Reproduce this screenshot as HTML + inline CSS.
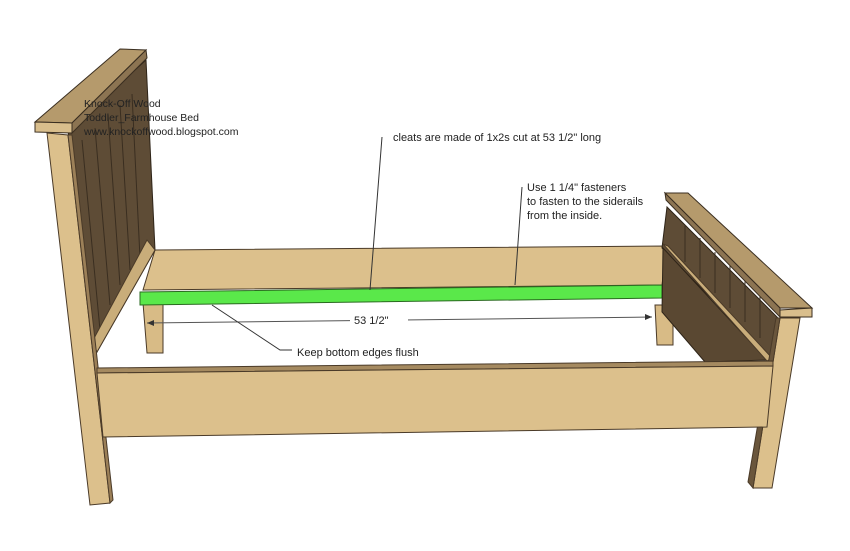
<!DOCTYPE html>
<html><head><style>
html,body{margin:0;padding:0;background:#fff;}
svg{display:block;}
text{font-family:"Liberation Sans","DejaVu Sans",sans-serif;font-size:11px;fill:#222;}
</style></head><body>
<svg width="850" height="551" viewBox="0 0 850 551">
<!-- back rail -->
<polygon points="155,250 667,246 662,285 143,290" fill="#dcc08c" stroke="#4a3a28" stroke-width="1"/>
<!-- back legs -->
<polygon points="143,303 163,303 163,353 147,353" fill="#d8bb86" stroke="#4a3a28"/>
<polygon points="655,305 673,305 673,345 657,345" fill="#d8bb86" stroke="#4a3a28"/>
<!-- green cleat -->
<polygon points="140,292 662,285 662,298 140,305" fill="#5ae84a" stroke="#2a6a20"/>
<!-- headboard panel -->
<polygon points="68,130 146,60 155,250 97,352 90,340" fill="#5e4c36" stroke="#2e2418"/>
<g stroke="#3a2e20" stroke-width="1">
<line x1="82" y1="140" x2="100" y2="330"/><line x1="95" y1="128" x2="110" y2="305"/>
<line x1="108" y1="115" x2="120" y2="285"/><line x1="120" y1="105" x2="130" y2="270"/>
<line x1="132" y1="94" x2="140" y2="258"/>
</g>
<polygon points="147,240 155,250 97,352 92,342" fill="#c9ad7a" stroke="#4a3a28"/>
<!-- headboard cap -->
<polygon points="35,122 120,49 146,50 72,123" fill="#b59a6c" stroke="#3a2e20"/>
<polygon points="72,123 146,50 147,58 72,133" fill="#8c7452" stroke="#3a2e20"/>
<polygon points="35,122 72,123 72,133 35,132" fill="#d9be8c" stroke="#3a2e20"/>
<!-- left post -->
<polygon points="47,133 68,135 110,503 90,505" fill="#dcc08c" stroke="#4a3a28"/>
<polygon points="68,135 72,135 113,500 110,503" fill="#9c8058" stroke="#4a3a28"/>
<!-- footboard -->
<polygon points="667,207 780,320 773,362 662,248" fill="#5e4c36" stroke="#2e2418"/>
<g stroke="#3a2e20">
<line x1="685" y1="225" x2="685" y2="262"/><line x1="700" y1="238" x2="700" y2="278"/>
<line x1="715" y1="252" x2="715" y2="293"/><line x1="730" y1="266" x2="730" y2="308"/>
<line x1="745" y1="280" x2="745" y2="322"/><line x1="760" y1="295" x2="760" y2="338"/>
</g>
<polygon points="663,248 767,360 705,362 662,312" fill="#5a4832" stroke="#2e2418"/>
<polygon points="663,244 668,246 772,358 767,361" fill="#c9ad7a" stroke="#4a3a28"/>
<polygon points="665,193 688,193 812,308 780,308" fill="#b59a6c" stroke="#3a2e20"/>
<polygon points="665,193 780,308 780,317 666,200" fill="#8c7452" stroke="#3a2e20"/>
<polygon points="780,310 812,308 812,317 780,317" fill="#d9be8c" stroke="#3a2e20"/>
<!-- right front post -->
<polygon points="780,318 800,318 772,488 753,488" fill="#dcc08c" stroke="#4a3a28"/>
<polygon points="776,318 780,318 753,488 748,482" fill="#6a563c" stroke="#4a3a28"/>
<!-- front rail -->
<polygon points="97,368 773,361 773,366 97,373" fill="#a58a60" stroke="#4a3a28"/>
<polygon points="97,373 773,366 767,427 103,437" fill="#dcc08c" stroke="#4a3a28"/>
<!-- dimension line -->
<line x1="147" y1="323" x2="652" y2="317" stroke="#555" stroke-width="1"/>
<polygon points="147,323 154,320 154,326" fill="#333"/>
<polygon points="652,317 645,314 645,320" fill="#333"/>
<rect x="350" y="313" width="58" height="12" fill="#fff"/>
<text x="354" y="324">53 1/2"</text>
<!-- leaders -->
<polyline points="212,305 280,350 292,350" fill="none" stroke="#333"/>
<line x1="382" y1="137" x2="370" y2="290" stroke="#333"/>
<line x1="522" y1="187" x2="515" y2="285" stroke="#333"/>
<text x="297" y="356">Keep bottom edges flush</text>
<text x="393" y="141">cleats are made of 1x2s cut at 53 1/2" long</text>
<text x="527" y="191">Use 1 1/4" fasteners</text>
<text x="527" y="205">to fasten to the siderails</text>
<text x="527" y="219">from the inside.</text>
<text x="84" y="107" style="font-size:10.5px">Knock-Off Wood</text>
<text x="84" y="121" style="font-size:10.5px">Toddler_Farmhouse Bed</text>
<text x="84" y="135" style="font-size:10.5px">www.knockoffwood.blogspot.com</text>
</svg>
</body></html>
